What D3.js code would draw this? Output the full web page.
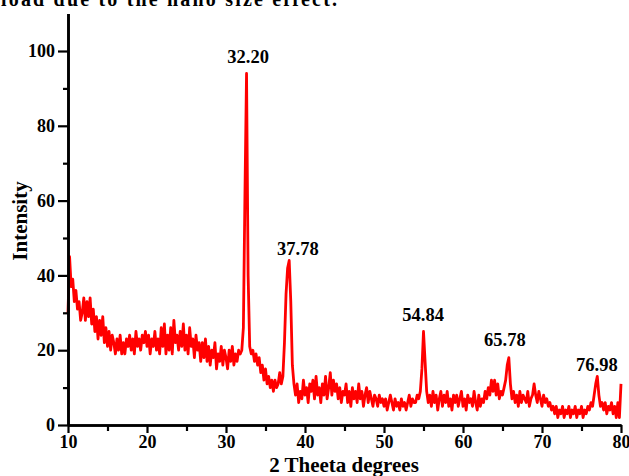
<!DOCTYPE html>
<html>
<head>
<meta charset="utf-8">
<script src="https://cdn.jsdelivr.net/npm/d3@7"></script>
<style>
  body { margin: 0; background: #fff; }
  svg { display: block; font-family: "Liberation Serif", "Times New Roman", serif; }
</style>
</head>
<body>
<script>
// measurement grid (2 theta, degrees)
const thetaStart = 10
const thetaStep = 0.2

// intensity, one row per degree (x.0, x.2, x.4, x.6, x.8)
const intensity = [
  30, 45, 37, 39, 33,   // 10
  36, 31, 33, 28, 30,   // 11
  34, 28, 33, 29, 34,   // 12
  27, 31, 25, 29, 23,   // 13
  28, 24, 29, 22, 26,   // 14
  21, 25, 20, 24, 22,   // 15
  19, 23, 20, 24, 19,   // 16
  22, 19, 23, 21, 24,   // 17
  20, 23, 19, 25, 21,   // 18
  23, 20, 24, 22, 25,   // 19
  21, 24, 19, 23, 21,   // 20
  25, 20, 23, 19, 26,   // 21
  21, 27, 19, 24, 20,   // 22
  26, 19, 28, 22, 24,   // 23
  20, 25, 21, 27, 20,   // 24
  24, 19, 26, 21, 23,   // 25
  18, 24, 20, 22, 17,   // 26
  22, 18, 23, 17, 21,   // 27
  16, 20, 18, 22, 15,   // 28
  19, 17, 21, 16, 20,   // 29
  18, 15, 20, 17, 21,   // 30
  16, 19, 17, 20, 19,   // 31
  20, 26, 62, 94, 40,   // 32
  21, 19, 20, 17, 19,   // 33
  16, 18, 14, 16, 12,   // 34
  15, 11, 13, 10, 12,   // 35
  9, 12, 10, 11, 14,    // 36
  11, 13, 22, 35, 42,   // 37
  44, 33, 16, 11, 8,    // 38
  11, 6, 9, 7, 12,      // 39
  8, 10, 6, 11, 9,      // 40
  12, 7, 13, 8, 10,     // 41
  6, 11, 8, 13, 7,      // 42
  10, 14, 8, 12, 9,     // 43
  11, 7, 10, 6, 9,      // 44
  8, 11, 6, 9, 5,       // 45
  10, 7, 9, 6, 11,      // 46
  7, 9, 5, 8, 10,       // 47
  6, 9, 7, 5, 8,        // 48
  7, 5, 8, 6, 7,        // 49
  5, 7, 4, 6, 8,        // 50
  6, 4, 7, 5, 6,        // 51
  4, 7, 5, 6, 4,        // 52
  6, 8, 5, 7, 6,        // 53
  6, 8, 7, 9, 15,       // 54
  25, 17, 9, 6, 8,      // 55
  5, 9, 6, 8, 4,        // 56
  7, 9, 5, 8, 6,        // 57
  9, 5, 7, 4, 8,        // 58
  6, 8, 5, 7, 9,        // 59
  5, 7, 4, 8, 6,        // 60
  7, 5, 9, 6, 4,        // 61
  8, 5, 7, 6, 9,        // 62
  7, 10, 8, 12, 9,      // 63
  12, 8, 11, 7, 9,      // 64
  8, 10, 12, 16, 18,    // 65
  11, 7, 9, 6, 8,       // 66
  5, 9, 6, 8, 7,        // 67
  6, 9, 5, 7, 8,        // 68
  11, 8, 6, 9, 7,       // 69
  5, 8, 6, 7, 5,        // 70
  6, 4, 5, 3, 5,        // 71
  2, 4, 3, 5, 2,        // 72
  4, 3, 5, 2, 4,        // 73
  3, 5, 2, 4, 3,        // 74
  5, 2, 4, 3, 5,        // 75
  4, 6, 5, 8, 11,       // 76
  13, 8, 5, 6, 4,       // 77
  6, 3, 5, 4, 6,        // 78
  3, 5, 2, 6, 2,        // 79
  11                    // 80
]

// peak labels
const peakText = ['32.20', '37.78', '54.84', '65.78', '76.98']
const peakLabelTheta = [32.8, 39.1, 54.95, 65.3, 76.95]
const peakLabelInt = [96.8, 45.5, 27.8, 21.1, 14.4]

// axis ticks
const xMajor = [10, 20, 30, 40, 50, 60, 70, 80]
const xMinor = [15, 25, 35, 45, 55, 65, 75]
const yMajor = [0, 20, 40, 60, 80, 100]
const yMinor = [10, 30, 50, 70, 90]

const w = 629
const h = 476

const svg = d3.select('body')
    .append('svg')
    .attr('width', w)
    .attr('height', h)

// clipped caption line from the page above the figure
svg.append('text')
    .attr('x', 1)
    .attr('y', 6)
    .attr('textLength', 336)
    .style('font-size', '20px')
    .style('font-weight', 'bold')
    .text('load due to the nano size effect.')

const x = d3.scaleLinear().domain([10, 80]).range([68, 621])
const y = d3.scaleLinear().domain([0, 110]).range([425, 13.6])

const points = intensity.map((v, i) => [thetaStart + i * thetaStep, v])

// pattern line
svg.append('path')
    .datum(points)
    .attr('fill', 'none')
    .attr('stroke', '#ff0000')
    .attr('stroke-width', 2.8)
    .attr('stroke-linejoin', 'round')
    .attr('d', d3.line().x(d => x(d[0])).y(d => y(d[1])))

// axes
const styleAxis = g => {
    g.select('.domain').attr('stroke', '#000').attr('stroke-width', 2.6)
    g.selectAll('.tick line').attr('stroke', '#000').attr('stroke-width', 2.2)
    g.selectAll('.tick text')
        .attr('fill', '#000')
        .style('font-size', '18px')
        .style('font-weight', 'bold')
        .style('font-family', '"Liberation Serif", serif')
}

svg.append('g')
    .attr('transform', 'translate(0,425)')
    .call(d3.axisBottom(x).tickValues(xMinor).tickSize(6).tickFormat('').tickSizeOuter(0))
    .call(styleAxis)

svg.append('g')
    .attr('transform', 'translate(0,425)')
    .call(d3.axisBottom(x).tickValues(xMajor).tickSize(8).tickPadding(2).tickSizeOuter(0))
    .call(styleAxis)

svg.append('g')
    .attr('transform', 'translate(68,0)')
    .call(d3.axisLeft(y).tickValues(yMinor).tickSize(5).tickFormat('').tickSizeOuter(0))
    .call(styleAxis)

svg.append('g')
    .attr('transform', 'translate(68,0)')
    .call(d3.axisLeft(y).tickValues(yMajor).tickSize(10).tickPadding(3).tickSizeOuter(0))
    .call(styleAxis)

// peak labels
svg.append('g')
    .selectAll('text')
    .data(peakText)
    .enter()
    .append('text')
    .attr('x', (d, i) => x(peakLabelTheta[i]))
    .attr('y', (d, i) => y(peakLabelInt[i]))
    .attr('text-anchor', 'middle')
    .style('font-size', '18.5px')
    .style('font-weight', 'bold')
    .text(d => d)

// axis titles
svg.append('text')
    .attr('x', 344)
    .attr('y', 472)
    .attr('text-anchor', 'middle')
    .style('font-size', '21px')
    .style('font-weight', 'bold')
    .text('2 Theeta degrees')

svg.append('text')
    .attr('transform', 'translate(27,221) rotate(-90)')
    .attr('text-anchor', 'middle')
    .style('font-size', '21px')
    .style('font-weight', 'bold')
    .text('Intensity')
</script>
</body>
</html>
